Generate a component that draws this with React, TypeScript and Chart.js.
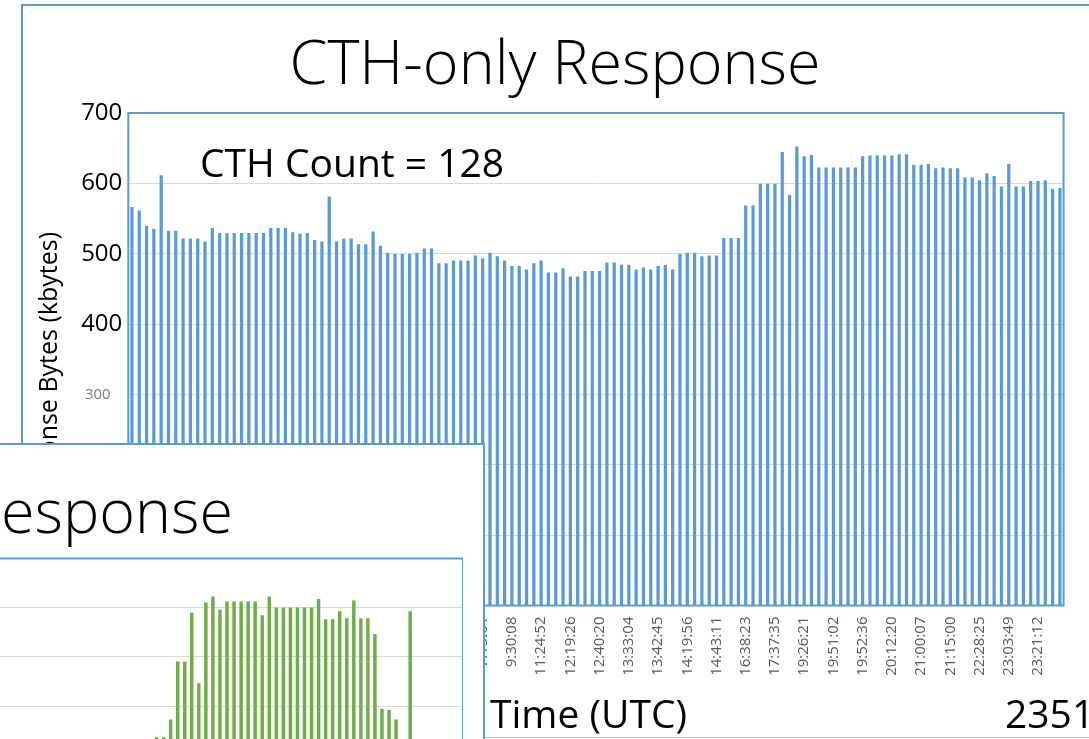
import React, { useEffect, useRef } from "react";
import { Chart, registerables } from "chart.js";

Chart.register(...registerables);

const FONT = '"Open Sans", "Noto Sans", "DejaVu Sans", sans-serif';

// ---- Main chart: CTH-only response size per request (kbytes) ----
const mainTitle = "CTH-only Response";
const annotation = "CTH Count = 128";
const yAxisTitle = "Response Bytes (kbytes)";
const xAxisTitle = "Time (UTC)";
const sideNote = "2351";

const cthValues: number[] = [
  566, 561, 539, 535, 611, 532, 532, 521, 521, 521, 517, 536, 529, 529, 529, 529, 529, 529, 529, 536, 536, 536, 530, 528, 529, 519,
  517, 581, 517, 521, 521, 513, 513, 531, 511, 501, 499, 499, 499, 501, 507, 507, 486, 486, 490, 490, 490, 497, 493, 501, 496, 490,
  482, 482, 477, 486, 490, 473, 473, 479, 467, 467, 475, 475, 475, 487, 487, 484, 484, 477, 480, 477, 482, 484, 477, 499, 501, 501,
  496, 497, 497, 522, 522, 522, 568, 568, 599, 599, 599, 644, 583, 652, 638, 640, 622, 622, 622, 622, 622, 622, 638, 639, 639, 639,
  639, 641, 641, 626, 626, 627, 621, 622, 621, 621, 608, 608, 604, 614, 610, 595, 627, 595, 595, 603, 603, 604, 592, 593,
];

// one time label every 4th bar; the first ones are hidden behind the overlapping panel
const LABEL_EVERY = 4;
const timeTickLabels: string[] = [
  "", "", "", "", "", "", "", "", "", "", "", "",
  "7:15:01", "9:30:08", "11:24:52", "12:19:26", "12:40:20", "13:33:04", "13:42:45", "14:19:56",
  "14:43:11", "16:38:23", "17:37:35", "19:26:21", "19:51:02", "19:52:36", "20:12:20", "21:00:07",
  "21:15:00", "22:28:25", "23:03:49", "23:21:12",
];

const yMin = 0;
const yMax = 700;
const yStep = 100;

// ---- Overlapping second chart (partly visible) ----
const greenTitle = "Response";
const greenHiddenBefore = 23; // bars whose tops are out of view on the left
const greenVisible: (number | null)[] = [
  336, 336, 372, 490, 490, 589, 446, 610, 622, 595, 612, 612, 612, 612, 612, 584, 622, 600, 600, 600,
  600, 600, 600, 617, 576, 576, 592, 578, 614, 578, 578, 546, 394, 392, 372, null, 592,
];
const greenHiddenAfter = 7;

const BLUE = "#5B9BD5";
const GREEN = "#70AD47";
const GRID = "#d9d9d9";

export default function App() {
  const mainRef = useRef<HTMLCanvasElement>(null);
  const greenRef = useRef<HTMLCanvasElement>(null);

  useEffect(() => {
    const categories = cthValues.map((_, i) =>
      i % LABEL_EVERY === 0 ? timeTickLabels[i / LABEL_EVERY] ?? "" : ""
    );

    const mainDecor = {
      id: "mainDecor",
      afterDraw(chart: any) {
        const { ctx, chartArea: a } = chart;
        ctx.save();
        ctx.strokeStyle = BLUE;
        ctx.lineWidth = 2;
        ctx.strokeRect(a.left, a.top, a.right - a.left, a.bottom - a.top);
        ctx.fillStyle = "#000";
        ctx.textBaseline = "alphabetic";
        ctx.textAlign = "center";
        ctx.font = `300 61px ${FONT}`;
        ctx.fillText(mainTitle, 555, 84);
        ctx.textAlign = "left";
        ctx.font = `39px ${FONT}`;
        ctx.fillText(annotation, 200, 177);
        ctx.font = `39px ${FONT}`;
        ctx.fillText(xAxisTitle, 490, 728);
        ctx.fillText(sideNote, 1005, 728);
        // rotated y-axis title
        ctx.save();
        ctx.translate(57, 232);
        ctx.rotate(-Math.PI / 2);
        ctx.textAlign = "right";
        ctx.font = `25px ${FONT}`;
        ctx.fillText(yAxisTitle, 0, 0);
        ctx.restore();
        ctx.restore();
      },
    };

    const main = new Chart(mainRef.current!, {
      type: "bar",
      data: {
        labels: categories,
        datasets: [
          {
            data: cthValues,
            backgroundColor: BLUE,
            borderWidth: 0,
            barThickness: 2.6,
          },
        ],
      },
      options: {
        responsive: false,
        maintainAspectRatio: false,
        animation: false,
        layout: { padding: { top: 113, right: 19.7, left: 0, bottom: 0 } },
        plugins: {
          legend: { display: false },
          tooltip: { enabled: false },
        },
        scales: {
          x: {
            grid: { display: false, drawTicks: false },
            border: { display: false },
            ticks: {
              autoSkip: false,
              minRotation: 90,
              maxRotation: 90,
              padding: 11,
              color: "#595959",
              font: { family: FONT, size: 15 },
            },
            afterFit: (s: any) => {
              s.height = 739 - 605.5;
            },
          },
          y: {
            min: yMin,
            max: yMax,
            grid: { color: GRID, lineWidth: 1, drawTicks: false },
            border: { display: false },
            ticks: {
              stepSize: yStep,
              padding: 6,
              color: (c: any) => (c.tick && c.tick.value === 300 ? "#7f7f7f" : "#000"),
              font: (c: any) => ({ family: FONT, size: c.tick && c.tick.value === 300 ? 15 : 24 }),
              callback: (v: any) => (v === 300 ? "300   " : String(v)),
            },
            afterFit: (s: any) => {
              s.width = 128.3;
            },
          },
        },
      },
      plugins: [mainDecor],
    });

    const greenData = [
      ...new Array(greenHiddenBefore).fill(null),
      ...greenVisible,
      ...new Array(greenHiddenAfter).fill(null),
    ];

    const greenDecor = {
      id: "greenDecor",
      afterDraw(chart: any) {
        const { ctx, chartArea: a } = chart;
        ctx.save();
        ctx.strokeStyle = BLUE;
        ctx.lineWidth = 2;
        ctx.strokeRect(a.left, a.top, a.right - a.left, a.bottom - a.top);
        ctx.fillStyle = "#000";
        ctx.textBaseline = "alphabetic";
        ctx.textAlign = "right";
        ctx.font = `300 61px ${FONT}`;
        ctx.fillText(greenTitle, 242, 90);
        ctx.restore();
      },
    };

    const green = new Chart(greenRef.current!, {
      type: "bar",
      data: {
        labels: greenData.map(() => ""),
        datasets: [
          {
            data: greenData,
            backgroundColor: GREEN,
            borderWidth: 0,
            barThickness: 2.8,
          },
        ],
      },
      options: {
        responsive: false,
        maintainAspectRatio: false,
        animation: false,
        layout: { padding: { top: 115.5, right: 0, left: 0, bottom: 0 } },
        plugins: {
          legend: { display: false },
          tooltip: { enabled: false },
        },
        scales: {
          x: { display: false },
          y: {
            min: yMin,
            max: yMax,
            grid: { color: GRID, lineWidth: 1, drawTicks: false },
            border: { display: false },
            ticks: { display: false, stepSize: yStep },
            afterFit: (s: any) => {
              s.width = 0;
            },
          },
        },
      },
      plugins: [greenDecor],
    });

    return () => {
      main.destroy();
      green.destroy();
    };
  }, []);

  return (
    <div
      style={{
        position: "fixed",
        left: 0,
        top: 0,
        width: 1089,
        height: 739,
        overflow: "hidden",
        background: "#fff",
      }}
    >
      <div
        style={{
          position: "absolute",
          left: 21,
          top: 4,
          width: 1200,
          height: 734,
          boxSizing: "border-box",
          borderTop: `2.5px solid ${BLUE}`,
          borderLeft: `2.5px solid ${BLUE}`,
          borderBottom: "1.5px solid #9DC3E6",
        }}
      />
      <canvas
        ref={mainRef}
        width={1089}
        height={739}
        style={{ position: "absolute", left: 0, top: 0, width: 1089, height: 739 }}
      />
      <div
        style={{
          position: "absolute",
          left: -10,
          top: 443,
          width: 495,
          height: 330,
          boxSizing: "border-box",
          border: `2px solid ${BLUE}`,
          background: "#fff",
        }}
      />
      <canvas
        ref={greenRef}
        width={472}
        height={460}
        style={{ position: "absolute", left: -9, top: 443, width: 472, height: 460 }}
      />
    </div>
  );
}
